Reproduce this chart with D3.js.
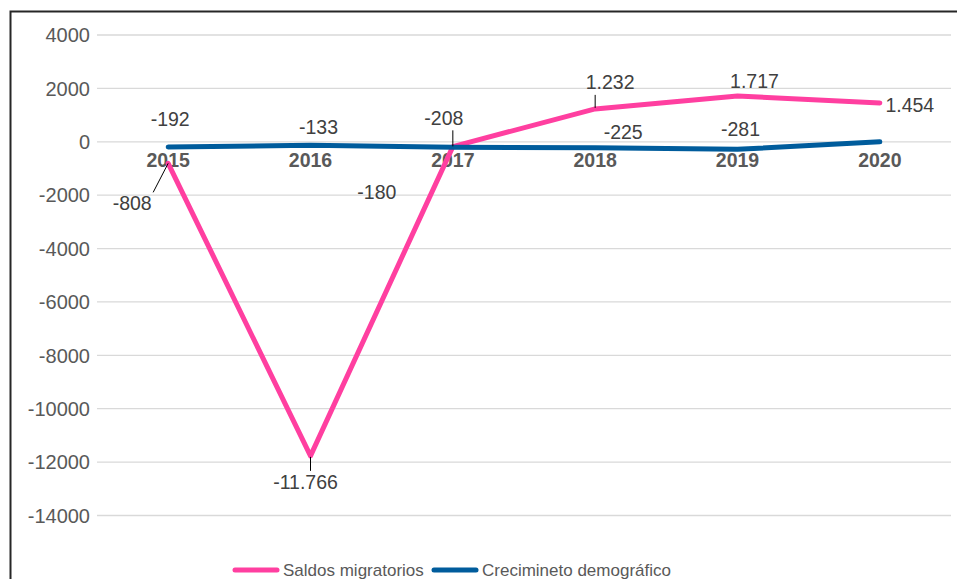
<!DOCTYPE html>
<html>
<head>
<meta charset="UTF-8">
<script src="https://d3js.org/d3.v7.min.js"></script>
<style>
    body { margin: 0; background: #fff; }
    svg { display: block; font-family: 'Liberation Sans', Arial, sans-serif; }
</style>
</head>
<body>
<svg id="chart" width="957" height="579"></svg>
<script>
// data
var years = ["2015", "2016", "2017", "2018", "2019", "2020"];
var saldos = [-808, -11766, -180, 1232, 1717, 1454];
var crecimiento = [-192, -133, -208, -225, -281, 0];
var saldosLabels = ["-808", "-11.766", "-180", "1.232", "1.717", "1.454"];
var crecimientoLabels = ["-192", "-133", "-208", "-225", "-281", ""];
var yTicks = [4000, 2000, 0, -2000, -4000, -6000, -8000, -10000, -12000, -14000];

// label placement (moved by hand in the original)
var saldosLabelPos = [[-36, 40], [-5, 26], [-76, 45], [15, -27], [17, -15], [30, 2]];
var crecimientoLabelPos = [[2, -28], [8, -18], [-9, -29], [28, -16], [3, -20], [0, 0]];
var saldosLeaders = [[-15, 29], [0, 15], null, [0, -14], null, null];
var crecimientoLeaders = [null, null, [0, -17], null, null, null];

var pink = "#ff3fa0";
var blue = "#005c9c";

var svg = d3.select("#chart");

// frame
svg.append("rect")
    .attr("x", 10.5).attr("y", 11.5)
    .attr("width", 970).attr("height", 620)
    .attr("fill", "none")
    .attr("stroke", "#262626")
    .attr("stroke-width", 2);

var x = d3.scaleBand().domain(years).range([97, 951]);
var y = d3.scaleLinear().domain([-14000, 4000]).range([515.5, 35]);

// gridlines
svg.append("g").selectAll("line")
    .data(yTicks)
    .enter()
    .append("line")
    .attr("x1", 97).attr("x2", 951)
    .attr("y1", function (d) { return y(d); })
    .attr("y2", function (d) { return y(d); })
    .attr("stroke", "#d9d9d9")
    .attr("stroke-width", 1.3);

// y tick labels
svg.append("g").selectAll("text")
    .data(yTicks)
    .enter()
    .append("text")
    .attr("x", 90)
    .attr("y", function (d) { return y(d); })
    .attr("dy", "0.36em")
    .attr("text-anchor", "end")
    .attr("fill", "#595959")
    .style("font-size", "20px")
    .text(function (d) { return d; });

// category labels sitting under the zero line
svg.append("g").selectAll("text")
    .data(years)
    .enter()
    .append("text")
    .attr("x", function (d) { return x(d) + x.bandwidth() / 2; })
    .attr("y", y(0) + 25.5)
    .attr("text-anchor", "middle")
    .attr("fill", "#595959")
    .style("font-size", "19.5px")
    .style("font-weight", "bold")
    .text(function (d) { return d; });

var cx = function (i) { return x(years[i]) + x.bandwidth() / 2; };

var line = d3.line()
    .x(function (d, i) { return cx(i); })
    .y(function (d) { return y(d); });

function drawSeries(values, color) {
    svg.append("path")
        .datum(values)
        .attr("d", line)
        .attr("fill", "none")
        .attr("stroke", color)
        .attr("stroke-width", 5)
        .attr("stroke-linecap", "round")
        .attr("stroke-linejoin", "round");
}

function drawLabels(values, labels, pos, leaders) {
    var g = svg.append("g");
    values.forEach(function (v, i) {
        var px = cx(i), py = y(v);
        if (leaders[i]) {
            g.append("line")
                .attr("x1", px).attr("y1", py + (leaders[i][0] === 0 ? Math.sign(leaders[i][1]) * 1 : 0))
                .attr("x2", px + leaders[i][0]).attr("y2", py + leaders[i][1])
                .attr("stroke", "#000")
                .attr("stroke-width", 1);
        }
        if (!labels[i]) return;
        g.append("text")
            .attr("x", px + pos[i][0])
            .attr("y", py + pos[i][1])
            .attr("dy", "0.36em")
            .attr("text-anchor", "middle")
            .attr("fill", "#404040")
            .style("font-size", "19.5px")
            .text(labels[i]);
    });
}

drawSeries(saldos, pink);
drawSeries(crecimiento, blue);
drawLabels(saldos, saldosLabels, saldosLabelPos, saldosLeaders);
drawLabels(crecimiento, crecimientoLabels, crecimientoLabelPos, crecimientoLeaders);

// legend
var legend = [
    { name: "Saldos migratorios", color: pink, x: 235 },
    { name: "Crecimineto demográfico", color: blue, x: 434 }
];
var lg = svg.append("g");
legend.forEach(function (d) {
    lg.append("line")
        .attr("x1", d.x).attr("x2", d.x + 42)
        .attr("y1", 570).attr("y2", 570)
        .attr("stroke", d.color)
        .attr("stroke-width", 5)
        .attr("stroke-linecap", "round");
    lg.append("text")
        .attr("x", d.x + 48)
        .attr("y", 570)
        .attr("dy", "0.36em")
        .attr("fill", "#595959")
        .style("font-size", "17px")
        .text(d.name);
});
</script>
</body>
</html>
